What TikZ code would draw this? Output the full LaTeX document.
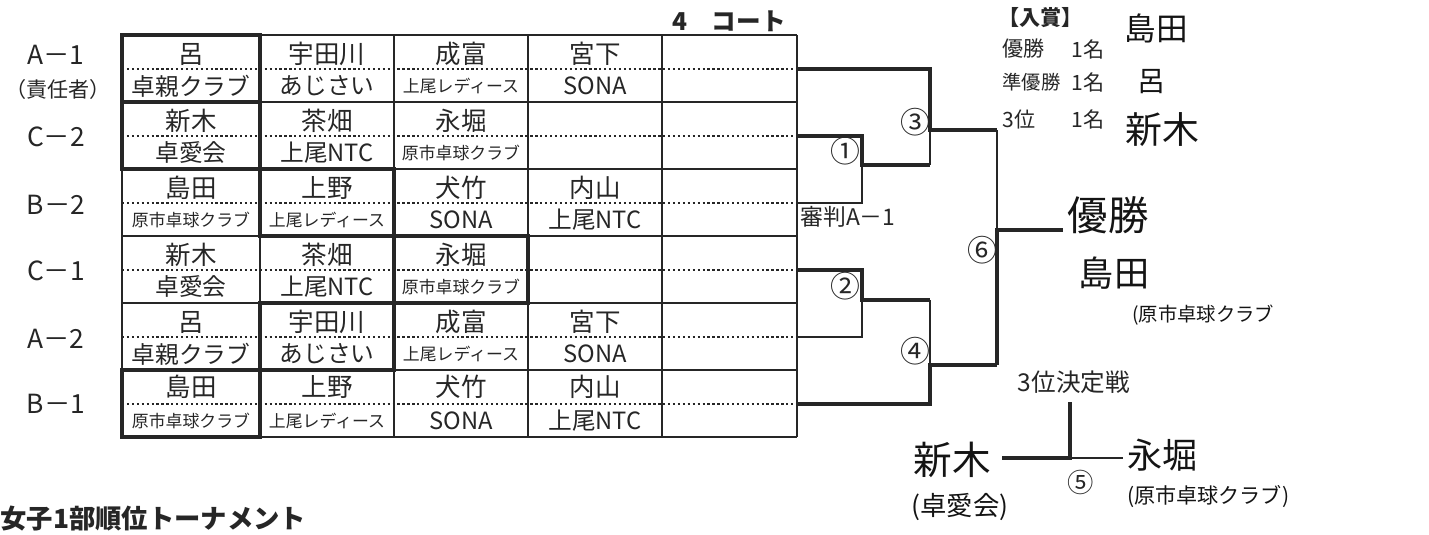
\documentclass[tikz,border=0pt]{standalone}
\usepackage{fontspec}
\setmainfont{Noto Sans CJK JP}

\colorlet{scan_ink}{black!85}
\colorlet{hand_ink}{black!92}

\tikzset{
  gridline/.style={draw=scan_ink, line width=0.9pt},
  dotline/.style={draw=scan_ink, line width=0.9pt, dash pattern=on 1.3pt off 1.5pt},
  boldcell/.style={draw=scan_ink, line width=2.4pt},
  winline/.style={draw=scan_ink, line width=2.8pt, line join=miter},
  loseline/.style={draw=scan_ink, line width=0.9pt},
  pname/.style={rectangle, inner sep=0pt, text=scan_ink, font=\fontsize{14.5}{15}\selectfont},
  pteam/.style={rectangle, inner sep=0pt, text=scan_ink, font=\fontsize{13.5}{15}\selectfont},
  pteamsm/.style={rectangle, inner sep=0pt, text=scan_ink, font=\fontsize{9.6}{11}\selectfont},
  rowlabel/.style={rectangle, inner sep=0pt, text=scan_ink, font=\fontsize{15}{16}\selectfont},
  matchno/.style={rectangle, inner sep=0pt, text=scan_ink, font=\fontsize{17}{18}\selectfont},
  printed/.style={rectangle, inner sep=0pt, text=scan_ink, font=\fontsize{12}{14}\selectfont},
  hand/.style={rectangle, inner sep=0pt, text=hand_ink}
}

\begin{document}
\begin{tikzpicture}[x=0.02cm, y=-0.02cm]
    \useasboundingbox (0,0) rectangle (1429,534);

    \node[rowlabel] (la1) at (56,55) {A－1};
    \node[rowlabel, font=\fontsize{12}{13}\selectfont] (lres) at (58,89) {（責任者）};
    \node[rowlabel] (lc2) at (56,137) {C－2};
    \node[rowlabel] (lb2) at (56,205) {B－2};
    \node[rowlabel] (lc1) at (56,271) {C－1};
    \node[rowlabel] (la2) at (56,339) {A－2};
    \node[rowlabel] (lb1) at (56,404) {B－1};

    \node[rectangle, inner sep=0pt, text=scan_ink, font=\fontsize{14}{15}\selectfont\bfseries]
      (court) at (729,21) {4\hspace{1em}コート};

    \draw[gridline] (122,35) -- (797,35);
    \draw[gridline] (122,102) -- (797,102);
    \draw[gridline] (122,169) -- (797,169);
    \draw[gridline] (122,236) -- (797,236);
    \draw[gridline] (122,303) -- (797,303);
    \draw[gridline] (122,370) -- (797,370);
    \draw[gridline] (122,437) -- (797,437);
    \draw[dotline] (122,69) -- (797,69);
    \draw[dotline] (122,136) -- (797,136);
    \draw[dotline] (122,203) -- (797,203);
    \draw[dotline] (122,270) -- (797,270);
    \draw[dotline] (122,337) -- (797,337);
    \draw[dotline] (122,404) -- (797,404);
    \draw[gridline] (122,35) -- (122,437);
    \draw[gridline] (260,35) -- (260,437);
    \draw[gridline] (394,35) -- (394,437);
    \draw[gridline] (528,35) -- (528,437);
    \draw[gridline] (662,35) -- (662,437);
    \draw[gridline] (797,35) -- (797,437);

    \draw[boldcell] (122,35) rectangle (260,102);
    \draw[boldcell] (122,102) rectangle (260,169);
    \draw[boldcell] (260,169) rectangle (394,236);
    \draw[boldcell] (394,236) rectangle (528,303);
    \draw[boldcell] (260,303) rectangle (394,370);
    \draw[boldcell] (122,370) rectangle (260,437);

    \node[pname] (g1c1n) at (191,54) {呂};
    \node[pteam] (g1c1t) at (191,86) {卓親クラブ};
    \node[pname] (g1c2n) at (327,54) {宇田川};
    \node[pteam] (g1c2t) at (327,86) {あじさい};
    \node[pname] (g1c3n) at (461,54) {成富};
    \node[pteamsm] (g1c3t) at (461,86) {上尾レディース};
    \node[pname] (g1c4n) at (595,54) {宮下};
    \node[pteam] (g1c4t) at (595,86) {SONA};

    \node[pname] (g2c1n) at (191,121) {新木};
    \node[pteam] (g2c1t) at (191,153) {卓愛会};
    \node[pname] (g2c2n) at (327,121) {茶畑};
    \node[pteam] (g2c2t) at (327,153) {上尾NTC};
    \node[pname] (g2c3n) at (461,121) {永堀};
    \node[pteamsm] (g2c3t) at (461,153) {原市卓球クラブ};

    \node[pname] (g3c1n) at (191,188) {島田};
    \node[pteamsm] (g3c1t) at (191,220) {原市卓球クラブ};
    \node[pname] (g3c2n) at (327,188) {上野};
    \node[pteamsm] (g3c2t) at (327,220) {上尾レディース};
    \node[pname] (g3c3n) at (461,188) {犬竹};
    \node[pteam] (g3c3t) at (461,220) {SONA};
    \node[pname] (g3c4n) at (595,188) {内山};
    \node[pteam] (g3c4t) at (595,220) {上尾NTC};

    \node[pname] (g4c1n) at (191,255) {新木};
    \node[pteam] (g4c1t) at (191,287) {卓愛会};
    \node[pname] (g4c2n) at (327,255) {茶畑};
    \node[pteam] (g4c2t) at (327,287) {上尾NTC};
    \node[pname] (g4c3n) at (461,255) {永堀};
    \node[pteamsm] (g4c3t) at (461,287) {原市卓球クラブ};

    \node[pname] (g5c1n) at (191,322) {呂};
    \node[pteam] (g5c1t) at (191,354) {卓親クラブ};
    \node[pname] (g5c2n) at (327,322) {宇田川};
    \node[pteam] (g5c2t) at (327,354) {あじさい};
    \node[pname] (g5c3n) at (461,322) {成富};
    \node[pteamsm] (g5c3t) at (461,354) {上尾レディース};
    \node[pname] (g5c4n) at (595,322) {宮下};
    \node[pteam] (g5c4t) at (595,354) {SONA};

    \node[pname] (g6c1n) at (191,387) {島田};
    \node[pteamsm] (g6c1t) at (191,421) {原市卓球クラブ};
    \node[pname] (g6c2n) at (327,387) {上野};
    \node[pteamsm] (g6c2t) at (327,421) {上尾レディース};
    \node[pname] (g6c3n) at (461,387) {犬竹};
    \node[pteam] (g6c3t) at (461,421) {SONA};
    \node[pname] (g6c4n) at (595,387) {内山};
    \node[pteam] (g6c4t) at (595,421) {上尾NTC};

    \coordinate (r1) at (797,69);
    \coordinate (r2) at (797,136);
    \coordinate (r3) at (797,203);
    \coordinate (r4) at (797,270);
    \coordinate (r5) at (797,337);
    \coordinate (r6) at (797,404);
    \coordinate (m1) at (862,165);
    \coordinate (m2) at (862,300);
    \coordinate (m3) at (930,130);
    \coordinate (m4) at (930,365);
    \coordinate (m6) at (997,230);
    \coordinate (w6) at (1063,230);

    \draw[loseline] (r3) -| (m1);
    \draw[loseline] (r5) -| (m2);
    \draw[loseline] (m3 |- m1) -- (m3);
    \draw[loseline] (m4 |- m2) -- (m4);
    \draw[loseline] (m6 |- m3) -- (m6);
    \draw[winline] (r2) -| (m1) -- (m3 |- m1);
    \draw[winline] (r4) -| (m2) -- (m4 |- m2);
    \draw[winline] (r1) -| (m3) -- (m6 |- m3);
    \draw[winline] (r6) -| (m4) -- (m6 |- m4);
    \draw[winline] (m6 |- m4) -- (m6) -- (w6);

    \node[matchno] (c1) at (845,151) {①};
    \node[matchno] (c2) at (845,286) {②};
    \node[matchno] (c3) at (915,122) {③};
    \node[matchno] (c4) at (915,351) {④};
    \node[matchno] (c6) at (982,250) {⑥};
    \node[printed, font=\fontsize{13}{14}\selectfont, anchor=west] (ref) at (800,217) {審判A－1};

    \node[printed, anchor=west, font=\fontsize{12}{13}\selectfont\bfseries] (prize) at (998,18) {【入賞】};
    \node[printed, anchor=west] (p1l) at (1002,49) {優勝};
    \node[printed, anchor=west, font=\fontsize{11}{13}\selectfont] (p2l) at (1002,82) {準優勝};
    \node[printed, anchor=west] (p3l) at (1002,119) {3位};
    \node[printed, anchor=west] (p1n) at (1071,49) {1名};
    \node[printed, anchor=west] (p2n) at (1071,82) {1名};
    \node[printed, anchor=west] (p3n) at (1071,119) {1名};
    \node[hand, font=\fontsize{18}{20}\selectfont] (h1) at (1156,28) {島田};
    \node[hand, font=\fontsize{16}{18}\selectfont] (h2) at (1152,82) {呂};
    \node[hand, font=\fontsize{21}{23}\selectfont] (h3) at (1162,130) {新木};

    \node[hand, font=\fontsize{23}{25}\selectfont] (win) at (1108,215) {優勝};
    \node[hand, font=\fontsize{20}{22}\selectfont] (winname) at (1114,273) {島田};
    \node[hand, font=\fontsize{11}{13}\selectfont, anchor=west] (winteam) at (1132,315) {(原市卓球クラブ};

    \node[printed, font=\fontsize{14}{15}\selectfont] (third) at (1074,382) {3位決定戦};
    \coordinate (t0) at (1070,402);
    \coordinate (t1) at (1070,458);
    \coordinate (tl) at (1002,458);
    \coordinate (tr) at (1123,458);
    \draw[loseline] (t1) -- (tr);
    \draw[winline] (t0) -- (t1) -- (tl);
    \node[matchno, font=\fontsize{15}{16}\selectfont] (c5) at (1081,482) {⑤};

    \node[hand, font=\fontsize{22}{24}\selectfont] (t3name) at (952,460) {新木};
    \node[hand, font=\fontsize{15}{17}\selectfont] (t3team) at (960,507) {(卓愛会)};
    \node[hand, font=\fontsize{20}{22}\selectfont, anchor=west] (t4name) at (1127,455) {永堀};
    \node[hand, font=\fontsize{12}{14}\selectfont, anchor=west] (t4team) at (1127,497) {(原市卓球クラブ)};

    \node[rectangle, inner sep=0pt, text=scan_ink, anchor=west,
      font=\fontsize{15}{16}\selectfont\bfseries] (title) at (0,519) {女子1部順位トーナメント};
\end{tikzpicture}
\end{document}
